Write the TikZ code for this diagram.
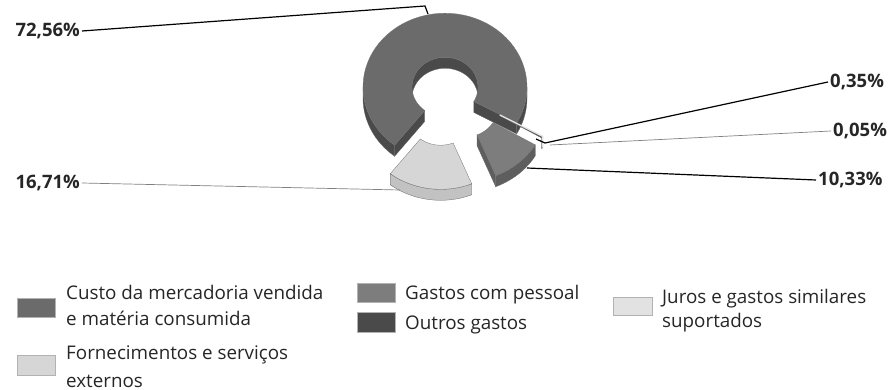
\documentclass[tikz,border=0pt]{standalone}
\usepackage{fontspec}
\setmainfont{Open Sans}
\def\dCX{445}\def\dCY{87}\def\dR{82}\def\dr{33}\def\dK{0.9}\def\dH{11}
\definecolor{custoT}{HTML}{6B6B6B}\definecolor{custoS}{HTML}{4A4A4A}
\definecolor{fornT}{HTML}{D6D6D6}\definecolor{fornS}{HTML}{C2C2C2}
\definecolor{gastT}{HTML}{7D7D7D}\definecolor{gastS}{HTML}{5E5E5E}
\definecolor{outrT}{HTML}{4A4A4A}\definecolor{jurT}{HTML}{E2E2E2}
\newcommand{\dTop}[5]{%
 \fill[#5, draw=black!55, line width=0.3pt] plot[domain=#1:#2,samples=60,variable=\t] ({\dCX+#3+\dR*cos(\t)},{\dCY+#4-\dK*\dR*sin(\t)}) -- plot[domain=#2:#1,samples=60,variable=\t] ({\dCX+#3+\dr*cos(\t)},{\dCY+#4-\dK*\dr*sin(\t)}) -- cycle;}
\newcommand{\dWall}[6]{%
 \fill[#6, draw=black!60, line width=0.3pt] plot[domain=#1:#2,samples=40,variable=\t] ({\dCX+#3+#5*cos(\t)},{\dCY+#4-\dK*#5*sin(\t)}) -- plot[domain=#2:#1,samples=40,variable=\t] ({\dCX+#3+#5*cos(\t)},{\dCY+#4-\dK*#5*sin(\t)+\dH}) -- cycle;}
\newcommand{\dCut}[4]{%
 \fill[#4, draw=black!60, line width=0.3pt] ({\dCX+#2+\dr*cos(#1)},{\dCY+#3-\dK*\dr*sin(#1)}) -- ({\dCX+#2+\dR*cos(#1)},{\dCY+#3-\dK*\dR*sin(#1)}) -- ++(0,\dH) -- ({\dCX+#2+\dr*cos(#1)},{\dCY+#3-\dK*\dr*sin(#1)+\dH}) -- cycle;}
\tikzset{
 pct/.style={font=\fontsize{18.5}{20}\selectfont\bfseries, text=black!85, inner sep=2pt},
 leg/.style={font=\fontsize{18.8}{21}\selectfont, text=black!85, inner sep=0pt, anchor=base west},
 sw/.style={draw=black!30, line width=0.3pt},
 blk/.style={draw=black, line width=1.2pt},
 gry/.style={draw=black!50, line width=0.7pt}
}
\begin{document}
\begin{tikzpicture}[x=1pt,y=-1pt]
\useasboundingbox (0,0) rectangle (892,390);
% --- Custo (not exploded)
\dWall{0}{180}{0}{0}{\dr}{custoS}
\dCut{-29.1}{0}{0}{custoS}
\dCut{232.1}{0}{0}{custoS}
\dWall{180}{232.1}{0}{0}{\dR}{custoS}
\dWall{-29.1}{0}{0}{0}{\dR}{custoS}
\dTop{-29.1}{232.1}{0}{0}{custoT}
% --- Fornecimentos
\dWall{232.1}{292.3}{-4.4}{28.5}{\dR}{fornS}
\dTop{232.1}{292.3}{-4.4}{28.5}{fornT}
% --- Gastos com pessoal
\dCut{292.3}{19.6}{20.4}{gastS}
\dWall{292.3}{329.5}{19.6}{20.4}{\dR}{gastS}
\dTop{292.3}{329.5}{19.6}{20.4}{gastT}
% --- Outros gastos and Juros (slivers)
\dWall{329.5}{330.9}{26}{13.5}{\dR}{outrT}
\dTop{329.5}{330.8}{26}{13.5}{outrT}
\draw[jurT, line width=1.3pt] ({\dCX+26+\dr*cos(330.9)},{\dCY+13.5-\dK*\dr*sin(330.9)}) -- ({\dCX+26+\dR*cos(330.9)},{\dCY+13.5-\dK*\dR*sin(330.9)}) -- ++(0,\dH);
% --- percentage labels
\node[pct, anchor=east] (l72) at (82,31) {72,56\%};
\node[pct, anchor=east] (l16) at (82,183) {16,71\%};
\node[pct, anchor=west] (l035) at (828,82) {0,35\%};
\node[pct, anchor=west] (l005) at (831,131) {0,05\%};
\node[pct, anchor=west] (l10) at (816,180) {10,33\%};
\coordinate (k72a) at (425,6);
\coordinate (k72b) at (428,14);
\coordinate (k16) at (400,190);
\coordinate (k035a) at (545,143);
\coordinate (k035b) at (536,139);
\coordinate (k005) at (550,145);
\coordinate (k10) at (527,168);
\draw[blk] (l72.east) -- (k72a) -- (k72b);
\draw[gry] (l16.east) -- (k16);
\draw[blk] (l035.west) -- (k035a) -- (k035b);
\draw[gry] (l005.west) -- (k005);
\draw[blk] (l10.west) -- (k10);
% --- legend
\fill[custoT, sw] (17,298) rectangle (55,317);
\fill[fornT, sw] (17,355) rectangle (55,375);
\fill[gastT, sw] (357,283) rectangle (395,302);
\fill[outrT, sw] (357,312) rectangle (395,332);
\fill[jurT, sw] (613,297) rectangle (652,315);
\node[leg] (t1a) at (66,299) {Custo da mercadoria vendida};
\node[leg] (t1b) at (66,325) {e matéria consumida};
\node[leg] (t2a) at (66,359) {Fornecimentos e serviços};
\node[leg] (t2b) at (66,387) {externos};
\node[leg] (t3) at (405,299) {Gastos com pessoal};
\node[leg] (t4) at (405,329) {Outros gastos};
\node[leg] (t5a) at (662,303) {Juros e gastos similares};
\node[leg] (t5b) at (662,327) {suportados};
\end{tikzpicture}
\end{document}
